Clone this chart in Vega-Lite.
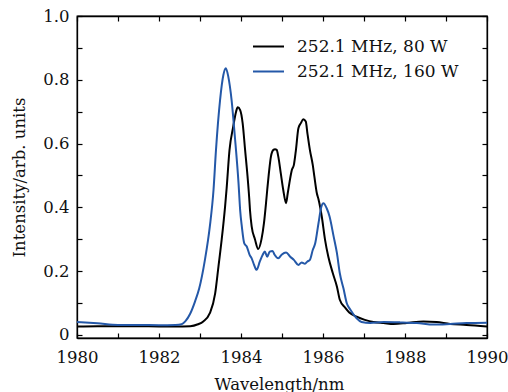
{
  "$schema": "https://vega.github.io/schema/vega-lite/v6.json",
  "width": 410,
  "height": 322,
  "autosize": "none",
  "padding": {"left": 77, "top": 16, "right": 21, "bottom": 54},
  "config": {
    "font": "DejaVu Serif",
    "view": {"stroke": "#000", "strokeWidth": 1.3},
    "axis": {
      "grid": false,
      "domainColor": "#000",
      "domainWidth": 1.3,
      "tickColor": "#000",
      "tickWidth": 1.2,
      "tickSize": -5,
      "labelColor": "#111",
      "titleColor": "#111",
      "labelFontSize": 16.5,
      "titleFontSize": 16.5,
      "titleFontWeight": "normal"
    }
  },
  "data": {
    "values": [
      {"wl": 1980, "I": 0.026, "s": "252.1 MHz, 80 W"},
      {"wl": 1980.5, "I": 0.027, "s": "252.1 MHz, 80 W"},
      {"wl": 1981, "I": 0.027, "s": "252.1 MHz, 80 W"},
      {"wl": 1981.5, "I": 0.027, "s": "252.1 MHz, 80 W"},
      {"wl": 1982, "I": 0.026, "s": "252.1 MHz, 80 W"},
      {"wl": 1982.4, "I": 0.026, "s": "252.1 MHz, 80 W"},
      {"wl": 1982.76, "I": 0.027, "s": "252.1 MHz, 80 W"},
      {"wl": 1982.95, "I": 0.033, "s": "252.1 MHz, 80 W"},
      {"wl": 1983.08, "I": 0.042, "s": "252.1 MHz, 80 W"},
      {"wl": 1983.24, "I": 0.068, "s": "252.1 MHz, 80 W"},
      {"wl": 1983.37, "I": 0.13, "s": "252.1 MHz, 80 W"},
      {"wl": 1983.45, "I": 0.214, "s": "252.1 MHz, 80 W"},
      {"wl": 1983.53, "I": 0.30, "s": "252.1 MHz, 80 W"},
      {"wl": 1983.61, "I": 0.40, "s": "252.1 MHz, 80 W"},
      {"wl": 1983.65, "I": 0.46, "s": "252.1 MHz, 80 W"},
      {"wl": 1983.72, "I": 0.58, "s": "252.1 MHz, 80 W"},
      {"wl": 1983.81, "I": 0.653, "s": "252.1 MHz, 80 W"},
      {"wl": 1983.88, "I": 0.70, "s": "252.1 MHz, 80 W"},
      {"wl": 1983.92, "I": 0.714, "s": "252.1 MHz, 80 W"},
      {"wl": 1983.98, "I": 0.705, "s": "252.1 MHz, 80 W"},
      {"wl": 1984.04, "I": 0.664, "s": "252.1 MHz, 80 W"},
      {"wl": 1984.1, "I": 0.58, "s": "252.1 MHz, 80 W"},
      {"wl": 1984.16, "I": 0.496, "s": "252.1 MHz, 80 W"},
      {"wl": 1984.2, "I": 0.43, "s": "252.1 MHz, 80 W"},
      {"wl": 1984.22, "I": 0.39, "s": "252.1 MHz, 80 W"},
      {"wl": 1984.26, "I": 0.34, "s": "252.1 MHz, 80 W"},
      {"wl": 1984.34, "I": 0.30, "s": "252.1 MHz, 80 W"},
      {"wl": 1984.42, "I": 0.269, "s": "252.1 MHz, 80 W"},
      {"wl": 1984.5, "I": 0.30, "s": "252.1 MHz, 80 W"},
      {"wl": 1984.56, "I": 0.35, "s": "252.1 MHz, 80 W"},
      {"wl": 1984.61, "I": 0.413, "s": "252.1 MHz, 80 W"},
      {"wl": 1984.64, "I": 0.455, "s": "252.1 MHz, 80 W"},
      {"wl": 1984.68, "I": 0.507, "s": "252.1 MHz, 80 W"},
      {"wl": 1984.73, "I": 0.559, "s": "252.1 MHz, 80 W"},
      {"wl": 1984.79, "I": 0.58, "s": "252.1 MHz, 80 W"},
      {"wl": 1984.83, "I": 0.582, "s": "252.1 MHz, 80 W"},
      {"wl": 1984.87, "I": 0.58, "s": "252.1 MHz, 80 W"},
      {"wl": 1984.91, "I": 0.559, "s": "252.1 MHz, 80 W"},
      {"wl": 1984.97, "I": 0.507, "s": "252.1 MHz, 80 W"},
      {"wl": 1985.03, "I": 0.455, "s": "252.1 MHz, 80 W"},
      {"wl": 1985.1, "I": 0.413, "s": "252.1 MHz, 80 W"},
      {"wl": 1985.14, "I": 0.444, "s": "252.1 MHz, 80 W"},
      {"wl": 1985.18, "I": 0.476, "s": "252.1 MHz, 80 W"},
      {"wl": 1985.24, "I": 0.517, "s": "252.1 MHz, 80 W"},
      {"wl": 1985.29, "I": 0.533, "s": "252.1 MHz, 80 W"},
      {"wl": 1985.34, "I": 0.58, "s": "252.1 MHz, 80 W"},
      {"wl": 1985.4, "I": 0.648, "s": "252.1 MHz, 80 W"},
      {"wl": 1985.46, "I": 0.664, "s": "252.1 MHz, 80 W"},
      {"wl": 1985.52, "I": 0.676, "s": "252.1 MHz, 80 W"},
      {"wl": 1985.58, "I": 0.669, "s": "252.1 MHz, 80 W"},
      {"wl": 1985.62, "I": 0.632, "s": "252.1 MHz, 80 W"},
      {"wl": 1985.68, "I": 0.58, "s": "252.1 MHz, 80 W"},
      {"wl": 1985.75, "I": 0.533, "s": "252.1 MHz, 80 W"},
      {"wl": 1985.79, "I": 0.496, "s": "252.1 MHz, 80 W"},
      {"wl": 1985.85, "I": 0.444, "s": "252.1 MHz, 80 W"},
      {"wl": 1985.89, "I": 0.425, "s": "252.1 MHz, 80 W"},
      {"wl": 1985.97, "I": 0.371, "s": "252.1 MHz, 80 W"},
      {"wl": 1986.05, "I": 0.298, "s": "252.1 MHz, 80 W"},
      {"wl": 1986.13, "I": 0.245, "s": "252.1 MHz, 80 W"},
      {"wl": 1986.24, "I": 0.193, "s": "252.1 MHz, 80 W"},
      {"wl": 1986.34, "I": 0.151, "s": "252.1 MHz, 80 W"},
      {"wl": 1986.41, "I": 0.11, "s": "252.1 MHz, 80 W"},
      {"wl": 1986.54, "I": 0.085, "s": "252.1 MHz, 80 W"},
      {"wl": 1986.64, "I": 0.07, "s": "252.1 MHz, 80 W"},
      {"wl": 1986.82, "I": 0.057, "s": "252.1 MHz, 80 W"},
      {"wl": 1987.02, "I": 0.047, "s": "252.1 MHz, 80 W"},
      {"wl": 1987.23, "I": 0.040, "s": "252.1 MHz, 80 W"},
      {"wl": 1987.48, "I": 0.037, "s": "252.1 MHz, 80 W"},
      {"wl": 1987.72, "I": 0.034, "s": "252.1 MHz, 80 W"},
      {"wl": 1988.04, "I": 0.037, "s": "252.1 MHz, 80 W"},
      {"wl": 1988.45, "I": 0.042, "s": "252.1 MHz, 80 W"},
      {"wl": 1988.77, "I": 0.040, "s": "252.1 MHz, 80 W"},
      {"wl": 1989.1, "I": 0.034, "s": "252.1 MHz, 80 W"},
      {"wl": 1989.5, "I": 0.031, "s": "252.1 MHz, 80 W"},
      {"wl": 1990, "I": 0.026, "s": "252.1 MHz, 80 W"},

      {"wl": 1980, "I": 0.040, "s": "252.1 MHz, 160 W"},
      {"wl": 1980.5, "I": 0.036, "s": "252.1 MHz, 160 W"},
      {"wl": 1981, "I": 0.031, "s": "252.1 MHz, 160 W"},
      {"wl": 1981.5, "I": 0.031, "s": "252.1 MHz, 160 W"},
      {"wl": 1982, "I": 0.030, "s": "252.1 MHz, 160 W"},
      {"wl": 1982.4, "I": 0.031, "s": "252.1 MHz, 160 W"},
      {"wl": 1982.55, "I": 0.033, "s": "252.1 MHz, 160 W"},
      {"wl": 1982.64, "I": 0.042, "s": "252.1 MHz, 160 W"},
      {"wl": 1982.76, "I": 0.066, "s": "252.1 MHz, 160 W"},
      {"wl": 1982.88, "I": 0.105, "s": "252.1 MHz, 160 W"},
      {"wl": 1982.98, "I": 0.145, "s": "252.1 MHz, 160 W"},
      {"wl": 1983.12, "I": 0.235, "s": "252.1 MHz, 160 W"},
      {"wl": 1983.24, "I": 0.34, "s": "252.1 MHz, 160 W"},
      {"wl": 1983.33, "I": 0.455, "s": "252.1 MHz, 160 W"},
      {"wl": 1983.39, "I": 0.58, "s": "252.1 MHz, 160 W"},
      {"wl": 1983.49, "I": 0.737, "s": "252.1 MHz, 160 W"},
      {"wl": 1983.57, "I": 0.815, "s": "252.1 MHz, 160 W"},
      {"wl": 1983.63, "I": 0.836, "s": "252.1 MHz, 160 W"},
      {"wl": 1983.69, "I": 0.81, "s": "252.1 MHz, 160 W"},
      {"wl": 1983.77, "I": 0.737, "s": "252.1 MHz, 160 W"},
      {"wl": 1983.85, "I": 0.622, "s": "252.1 MHz, 160 W"},
      {"wl": 1983.94, "I": 0.475, "s": "252.1 MHz, 160 W"},
      {"wl": 1983.98, "I": 0.39, "s": "252.1 MHz, 160 W"},
      {"wl": 1984.02, "I": 0.34, "s": "252.1 MHz, 160 W"},
      {"wl": 1984.08, "I": 0.287, "s": "252.1 MHz, 160 W"},
      {"wl": 1984.14, "I": 0.277, "s": "252.1 MHz, 160 W"},
      {"wl": 1984.21, "I": 0.251, "s": "252.1 MHz, 160 W"},
      {"wl": 1984.26, "I": 0.240, "s": "252.1 MHz, 160 W"},
      {"wl": 1984.32, "I": 0.219, "s": "252.1 MHz, 160 W"},
      {"wl": 1984.38, "I": 0.204, "s": "252.1 MHz, 160 W"},
      {"wl": 1984.46, "I": 0.23, "s": "252.1 MHz, 160 W"},
      {"wl": 1984.53, "I": 0.251, "s": "252.1 MHz, 160 W"},
      {"wl": 1984.58, "I": 0.261, "s": "252.1 MHz, 160 W"},
      {"wl": 1984.64, "I": 0.245, "s": "252.1 MHz, 160 W"},
      {"wl": 1984.7, "I": 0.261, "s": "252.1 MHz, 160 W"},
      {"wl": 1984.77, "I": 0.263, "s": "252.1 MHz, 160 W"},
      {"wl": 1984.82, "I": 0.251, "s": "252.1 MHz, 160 W"},
      {"wl": 1984.91, "I": 0.240, "s": "252.1 MHz, 160 W"},
      {"wl": 1984.99, "I": 0.251, "s": "252.1 MHz, 160 W"},
      {"wl": 1985.1, "I": 0.258, "s": "252.1 MHz, 160 W"},
      {"wl": 1985.2, "I": 0.245, "s": "252.1 MHz, 160 W"},
      {"wl": 1985.29, "I": 0.235, "s": "252.1 MHz, 160 W"},
      {"wl": 1985.4, "I": 0.219, "s": "252.1 MHz, 160 W"},
      {"wl": 1985.48, "I": 0.227, "s": "252.1 MHz, 160 W"},
      {"wl": 1985.56, "I": 0.223, "s": "252.1 MHz, 160 W"},
      {"wl": 1985.62, "I": 0.23, "s": "252.1 MHz, 160 W"},
      {"wl": 1985.68, "I": 0.235, "s": "252.1 MHz, 160 W"},
      {"wl": 1985.75, "I": 0.266, "s": "252.1 MHz, 160 W"},
      {"wl": 1985.81, "I": 0.287, "s": "252.1 MHz, 160 W"},
      {"wl": 1985.89, "I": 0.35, "s": "252.1 MHz, 160 W"},
      {"wl": 1985.96, "I": 0.402, "s": "252.1 MHz, 160 W"},
      {"wl": 1986.01, "I": 0.413, "s": "252.1 MHz, 160 W"},
      {"wl": 1986.09, "I": 0.397, "s": "252.1 MHz, 160 W"},
      {"wl": 1986.16, "I": 0.371, "s": "252.1 MHz, 160 W"},
      {"wl": 1986.26, "I": 0.308, "s": "252.1 MHz, 160 W"},
      {"wl": 1986.34, "I": 0.256, "s": "252.1 MHz, 160 W"},
      {"wl": 1986.41, "I": 0.193, "s": "252.1 MHz, 160 W"},
      {"wl": 1986.5, "I": 0.145, "s": "252.1 MHz, 160 W"},
      {"wl": 1986.58, "I": 0.099, "s": "252.1 MHz, 160 W"},
      {"wl": 1986.66, "I": 0.08, "s": "252.1 MHz, 160 W"},
      {"wl": 1986.82, "I": 0.052, "s": "252.1 MHz, 160 W"},
      {"wl": 1986.94, "I": 0.040, "s": "252.1 MHz, 160 W"},
      {"wl": 1987.15, "I": 0.037, "s": "252.1 MHz, 160 W"},
      {"wl": 1987.48, "I": 0.040, "s": "252.1 MHz, 160 W"},
      {"wl": 1987.88, "I": 0.039, "s": "252.1 MHz, 160 W"},
      {"wl": 1988.29, "I": 0.037, "s": "252.1 MHz, 160 W"},
      {"wl": 1988.7, "I": 0.032, "s": "252.1 MHz, 160 W"},
      {"wl": 1989.1, "I": 0.034, "s": "252.1 MHz, 160 W"},
      {"wl": 1989.5, "I": 0.037, "s": "252.1 MHz, 160 W"},
      {"wl": 1990, "I": 0.038, "s": "252.1 MHz, 160 W"}
    ]
  },
  "layer": [
    {
      "mark": {"type": "line", "opacity": 0},
      "encoding": {
        "x": {"field": "wl", "type": "quantitative", "scale": {"domain": [1980, 1990], "nice": false, "zero": false},
          "axis": {"orient": "top", "values": [1980,1981,1982,1983,1984,1985,1986,1987,1988,1989,1990], "labels": false, "title": null}},
        "y": {"field": "I", "type": "quantitative", "scale": {"domain": [-0.01, 1.0], "nice": false, "zero": false},
          "axis": {"orient": "right", "values": [0,0.1,0.2,0.3,0.4,0.5,0.6,0.7,0.8,0.9,1.0], "labels": false, "title": null}},
        "detail": {"field": "s"}
      }
    },
    {
      "mark": {"type": "line", "strokeWidth": 2, "interpolate": "monotone"},
      "encoding": {
        "x": {"field": "wl", "type": "quantitative", "scale": {"domain": [1980, 1990], "nice": false, "zero": false},
          "axis": {"orient": "bottom", "values": [1980,1981,1982,1983,1984,1985,1986,1987,1988,1989,1990], "format": "d",
            "labelExpr": "datum.value % 2 == 0 ? datum.label : ''", "labelPadding": 16, "labelFlush": false,
            "title": "Wavelength/nm", "titleX": 202, "titleY": 51, "titleBaseline": "alphabetic", "titleAnchor": null, "titleAlign": "center"}},
        "y": {"field": "I", "type": "quantitative", "scale": {"domain": [-0.01, 1.0], "nice": false, "zero": false},
          "axis": {"orient": "left", "values": [0,0.1,0.2,0.3,0.4,0.5,0.6,0.7,0.8,0.9,1.0],
            "labelExpr": "datum.value == 0 ? '0' : (round(datum.value*10) % 2 == 0 ? format(datum.value, '.1f') : '')",
            "labelPadding": 13, "labelFlush": false,
            "title": "Intensity/arb. units", "titleX": -58, "titleY": 161, "titleAngle": -90, "titleAlign": "center", "titleBaseline": "middle"}},
        "color": {"field": "s", "type": "nominal",
          "scale": {"domain": ["252.1 MHz, 80 W", "252.1 MHz, 160 W"], "range": ["#000000", "#2458a8"]},
          "legend": {"title": null, "orient": "none", "legendX": 175, "legendY": 14, "symbolType": "stroke", "symbolSize": 961,
            "symbolStrokeWidth": 2, "labelFontSize": 17, "labelLimit": 400, "labelColor": "#111", "labelOffset": 12, "rowPadding": 0, "padding": 0}}
      }
    }
  ],
  "resolve": {"axis": {"x": "independent", "y": "independent"}}
}
